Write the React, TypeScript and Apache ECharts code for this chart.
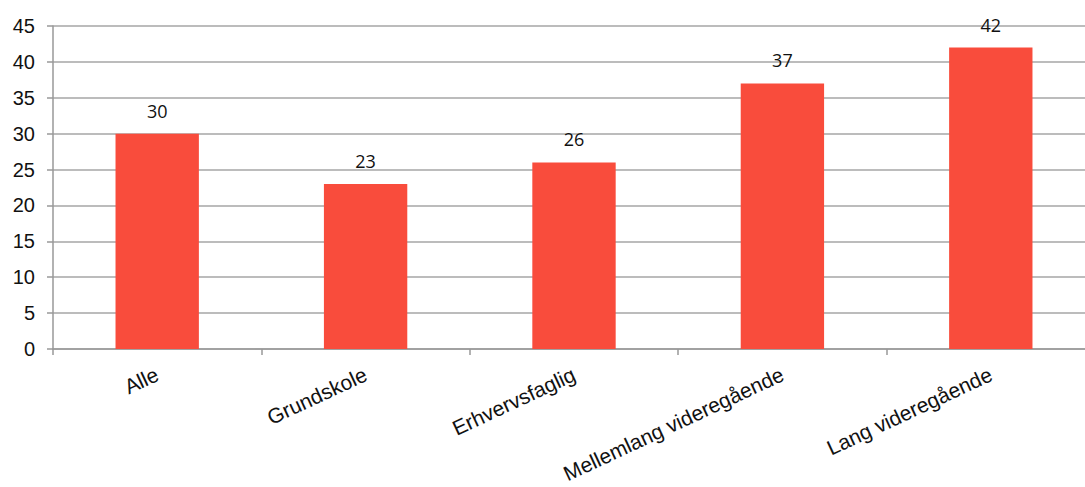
import React, { useEffect, useRef } from "react";
import * as echarts from "echarts";

const categories = ["Alle", "Grundskole", "Erhvervsfaglig", "Mellemlang videregående", "Lang videregående"];
const values = [30, 23, 26, 37, 42];

export default function App() {
  const ref = useRef<HTMLDivElement>(null);
  useEffect(() => {
    if (!ref.current) return;
    const chart = echarts.init(ref.current, null, { renderer: "svg" });
    const font = "'Liberation Sans', Arial, sans-serif";
    chart.setOption({
      animation: false,
      grid: { left: 53, top: 26, height: 323, width: 1042, containLabel: false, outerBoundsMode: "none" },
      xAxis: {
        type: "category",
        data: categories,
        axisLine: { lineStyle: { color: "#999", width: 1.5 } },
        axisTick: { show: true, length: 6, lineStyle: { color: "#999", width: 1.5 } },
        axisLabel: { rotate: 25, fontSize: 21, color: "#111", fontFamily: font, margin: 24, interval: 0 },
      },
      yAxis: {
        type: "value",
        min: 0,
        max: 45,
        interval: 5,
        axisLine: { show: true, lineStyle: { color: "#999", width: 1.5 } },
        axisTick: { show: true, length: 6, lineStyle: { color: "#999", width: 1.5 } },
        splitLine: { lineStyle: { color: "#a6a6a6", width: 1.5 } },
        axisLabel: { fontSize: 20, color: "#111", fontFamily: font, margin: 18 },
      },
      series: [
        {
          type: "bar",
          data: values,
          barWidth: "40%",
          itemStyle: { color: "#F94C3C" },
          label: { show: true, position: "top", distance: 14, fontSize: 18, color: "#111", fontFamily: "'Open Sans', 'Liberation Sans', sans-serif" },
        },
      ],
    });
    return () => chart.dispose();
  }, []);
  return <div ref={ref} style={{ width: 1085, height: 487, position: "absolute", left: 0, top: 0 }} />;
}
